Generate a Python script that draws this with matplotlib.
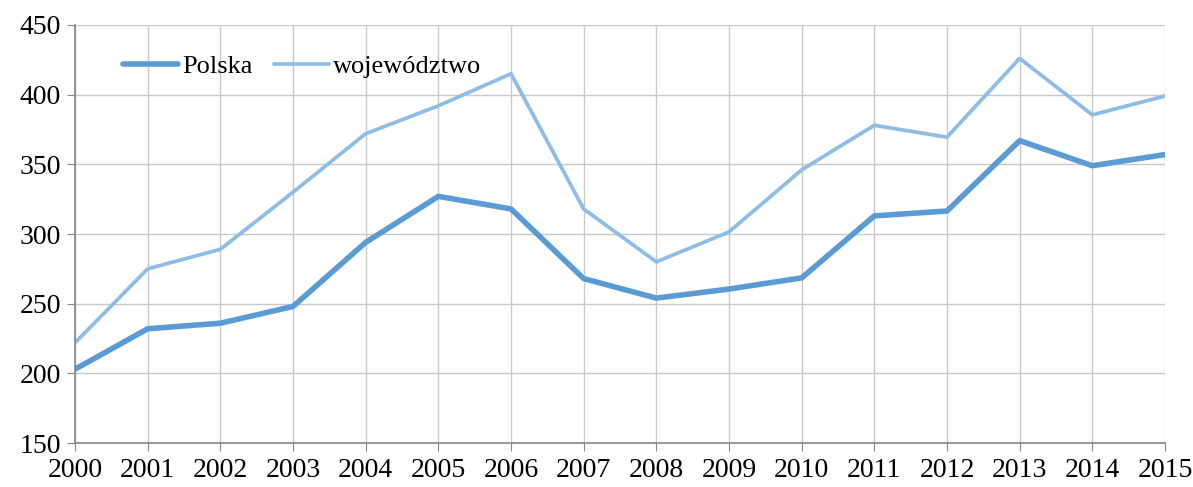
import matplotlib.pyplot as plt

plt.rcParams['font.family'] = ['Liberation Serif', 'DejaVu Serif']

years = list(range(2000, 2016))
polska = [203, 232, 236, 248, 294, 327, 318, 268, 254, 260.5, 268.5, 313, 316.5, 367, 349, 357]
wojewodztwo = [222, 275, 289, 330, 372, 392, 415, 318, 280, 301.5, 346, 378, 369.5, 426, 385.5, 399]
yticks = [150, 200, 250, 300, 350, 400, 450]

fig = plt.figure(figsize=(11.93, 4.87), dpi=100)
ax = fig.add_axes([0.0629, 0.0903, 0.9136, 0.8584])

ax.plot(years, polska, color='#5B9BD5', lw=4.0, label='Polska', solid_capstyle='round')
ax.plot(years, wojewodztwo, color='#8DBDE6', lw=2.7, label='województwo', solid_capstyle='round')

ax.set_xlim(2000, 2015)
ax.set_ylim(150, 450)
ax.set_xticks(years)
ax.set_yticks(yticks)
ax.grid(True, color='#C8C8C8', lw=1.0)
ax.set_axisbelow(True)

for s in ['top', 'right']:
    ax.spines[s].set_visible(False)
for s in ['left', 'bottom']:
    ax.spines[s].set_color('#868686')
    ax.spines[s].set_linewidth(1.2)

ax.tick_params(axis='x', direction='out', length=6, color='#868686', labelsize=20, pad=5)
ax.tick_params(axis='y', direction='out', length=6, color='#868686', labelsize=20, pad=4)

ax.legend(loc='upper left', bbox_to_anchor=(0.022, 0.985), ncol=2, frameon=False,
          fontsize=19, handlelength=2.1, handletextpad=0.15, columnspacing=0.8)

fig.savefig('out.png', dpi=100)
